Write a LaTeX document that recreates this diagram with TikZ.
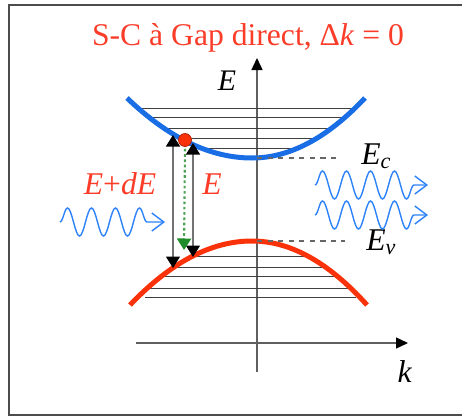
\documentclass[tikz,border=0pt]{standalone}
\usepackage{fontspec}
\setmainfont{Liberation Serif}
\usetikzlibrary{arrows.meta, decorations.pathmorphing}
\definecolor{cbblue}{RGB}{25,110,230}
\definecolor{vbred}{RGB}{250,50,10}
\definecolor{lblred}{RGB}{250,60,40}
\definecolor{photblue}{RGB}{45,130,250}
\definecolor{relgreen}{RGB}{30,140,40}
\definecolor{axgray}{RGB}{95,95,95}

\begin{document}
\begin{tikzpicture}[
    x=0.2mm, y=-0.2mm,
    every node/.style={inner sep=0pt},
    ttl/.style={font=\fontsize{18}{20}\selectfont, text=lblred},
    rl/.style={font=\fontsize{18}{20}\selectfont, text=lblred},
    bl/.style={font=\fontsize{18}{20}\selectfont},
    ax/.style={draw=axgray, line width=0.8pt,
        -{Triangle[length=2.4mm,width=2.2mm,color=black]}},
    lvl/.style={draw=black!75, line width=0.5pt},
    gapline/.style={draw=black!60, line width=0.6pt, dashed},
    cb/.style={draw=cbblue, line width=1mm},
    vb/.style={draw=vbred, line width=1mm},
    trans/.style={draw=black!55, line width=0.7pt,
        {Triangle[length=2.3mm,width=2.8mm,color=black]}-{Triangle[length=2.3mm,width=2.8mm,color=black]}},
    relax/.style={draw=relgreen!80, line width=1.2pt, dash pattern=on 1.5pt off 1.5pt,
        -{Triangle[length=2.3mm,width=2.8mm,color=relgreen]}},
    photon/.style={draw=photblue, line width=0.8pt, decorate,
        decoration={snake, amplitude=2.8mm, segment length=4.8mm, post length=1.4mm},
        -{Straight Barb[length=2.4mm,width=3.6mm]}},
]

\useasboundingbox (0,0) rectangle (462,416);
\draw[draw=black!70, line width=1.1pt] (470,5) -- (9,5) -- (9,415) -- (470,415);

% ====== TITLE ======
\node[ttl, anchor=base] (title) at (248,45) {S-C à Gap direct, Δ\textit{k} = 0};

% ====== AXES ======
\coordinate (E-bot) at (257,372);
\coordinate (E-top) at (257,58);
\coordinate (k-left) at (136,343);
\coordinate (k-right) at (408,343);
\draw[ax] (E-bot) -- (E-top);
\draw[ax] (k-left) -- (k-right);
\node[font=\fontsize{17}{20}\selectfont\itshape, anchor=base] (E-lbl) at (227,90) {E};
\node[bl, anchor=base] (k-lbl) at (405,382) {\textit{k}};

% ====== LEVELS ======
\begin{scope}
    \clip (127,98) .. controls (168.7,138) and (210.3,158) .. (252,158)
        .. controls (289.7,158) and (327.3,138) .. (365,98) -- cycle;
    \foreach \y in {108,117,128,138,148}
        \draw[lvl] (120,\y) -- (380,\y);
\end{scope}
\begin{scope}
    \clip (130,305) .. controls (170.7,262.3) and (211.3,241) .. (252,241)
        .. controls (290.3,241) and (328.7,262.3) .. (367,305) -- cycle;
    \foreach \y in {256,267,276,288,297}
        \draw[lvl] (145,\y) -- (356,\y);
\end{scope}

% ====== BANDS ======
\draw[cb] (127,98) .. controls (168.7,138) and (210.3,158) .. (252,158)
    .. controls (289.7,158) and (327.3,138) .. (365,98);
\draw[vb] (130,305) .. controls (170.7,262.3) and (211.3,241) .. (252,241)
    .. controls (290.3,241) and (328.7,262.3) .. (367,305);

\coordinate (Ec-a) at (257,158);
\coordinate (Ec-b) at (338,158);
\coordinate (Ev-a) at (257,241);
\coordinate (Ev-b) at (345,241);
\draw[gapline] (Ec-a) -- (Ec-b);
\draw[gapline] (Ev-a) -- (Ev-b);
\node[bl, anchor=base west] (Ec) at (361,164) {\textit{E}\textsubscript{\textit{c}}};
\node[bl, anchor=base west] (Ev) at (366,250) {\textit{E}\textsubscript{\textit{v}}};

% ====== TRANSITIONS ======
\coordinate (t1-top) at (173,135);
\coordinate (t1-bot) at (173,268);
\coordinate (t2-top) at (193,143);
\coordinate (t2-bot) at (193,257);
\coordinate (rl-bot) at (184,250);
\draw[trans] (t1-bot) -- (t1-top);
\draw[trans] (t2-bot) -- (t2-top);
\node[circle, fill=vbred, draw=vbred!70!black, line width=0.4pt,
    minimum size=2.6mm] (elec) at (185,140) {};
\draw[relax] (elec.south) ++(0,2) -- (rl-bot);

\node[rl, anchor=base] (EdE-lbl) at (120,194) {\textit{E}+\textit{dE}};
\node[rl, anchor=base] (E-gap) at (212,194) {\textit{E}};

% ====== PHOTONS ======
\coordinate (in-a) at (60,222);
\coordinate (in-b) at (165,222);
\coordinate (out1-a) at (315,185);
\coordinate (out1-b) at (428,185);
\coordinate (out2-a) at (315,215);
\coordinate (out2-b) at (428,215);
\draw[photon] (in-a) -- (in-b);
\draw[photon] (out1-a) -- (out1-b);
\draw[photon] (out2-a) -- (out2-b);

\end{tikzpicture}
\end{document}
